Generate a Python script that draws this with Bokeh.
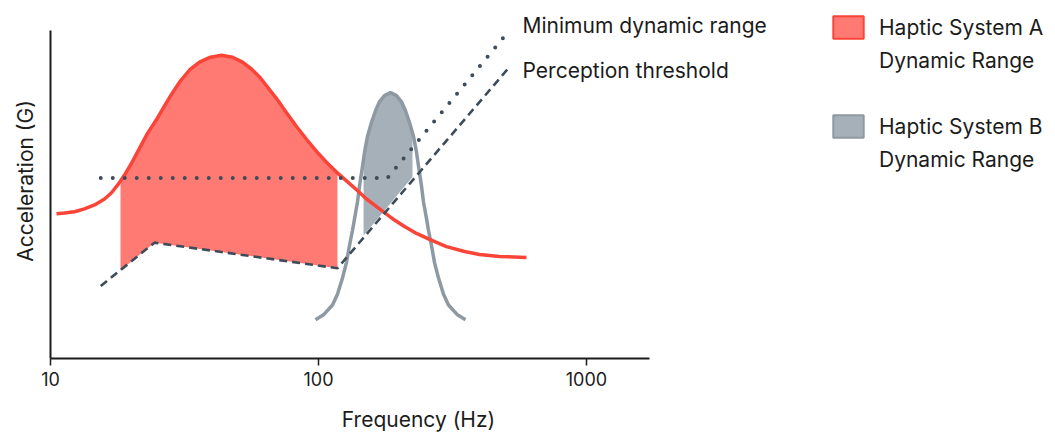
from bokeh.plotting import figure
from bokeh.layouts import row
from bokeh.models import Range1d, FixedTicker, Legend, LegendItem, Label
from bokeh.embed import file_html
from bokeh.resources import INLINE

# ---------------- data ----------------
# Haptic System A response curve (frequency in Hz, acceleration in arbitrary units)
sysA_x = [10.53, 11.28, 12.29, 13.39, 14.60, 15.91, 16.89, 17.94, 18.89, 20.06,
          21.48, 23.01, 24.87, 26.64, 28.53, 30.56, 33.02, 35.97, 39.54, 43.46,
          47.77, 52.05, 56.23, 60.24, 63.97, 69.72, 75.97, 82.80, 90.20, 98.30,
          107.1, 116.7, 127.2, 138.7, 151.1, 168.9, 188.9, 209.4, 232.2, 259.6,
          300.4, 350.6, 398.7, 473.6, 597.2]
sysA_y = [4.41, 4.43, 4.47, 4.56, 4.68, 4.86, 5.05, 5.32, 5.59, 5.95,
          6.40, 6.86, 7.28, 7.70, 8.10, 8.46, 8.79, 9.03, 9.18, 9.24,
          9.18, 9.03, 8.82, 8.58, 8.31, 7.92, 7.49, 7.07, 6.68, 6.31,
          5.98, 5.68, 5.41, 5.14, 4.86, 4.56, 4.26, 4.02, 3.81, 3.63,
          3.41, 3.26, 3.17, 3.11, 3.08]

# Haptic System B response curve
sysB_x = [97.46, 104.4, 112.8, 117.7, 122.9, 127.2, 130.5, 133.9, 136.3, 139.8,
          142.3, 146.0, 148.5, 152.4, 157.7, 163.2, 168.9, 176.3, 185.7, 195.5,
          204.1, 211.2, 218.6, 226.2, 232.2, 236.2, 242.3, 246.5, 253.0, 257.4,
          264.1, 270.9, 280.5, 292.8, 305.6, 330.1, 353.6]
sysB_y = [1.18, 1.33, 1.63, 1.96, 2.45, 2.93, 3.44, 3.90, 4.26, 4.77,
          5.26, 5.86, 6.28, 6.77, 7.19, 7.55, 7.82, 8.01, 8.10, 8.01,
          7.82, 7.55, 7.19, 6.77, 6.28, 5.86, 5.26, 4.77, 4.26, 3.90,
          3.44, 2.93, 2.45, 1.96, 1.63, 1.33, 1.18]

# Perception threshold (dashed)
thr_x = [15.4, 24.44, 117.7, 512]
thr_y = [2.21, 3.53, 2.75, 8.85]

# Minimum dynamic range (dotted)
mdr_x = [15.4, 181, 512]
mdr_y = [5.50, 5.50, 9.97]

# Dynamic range region of System A (outline of the filled area)
rangeA_x = [18.25, 18.89, 20.06, 21.48, 23.01, 24.87, 26.64, 28.53, 30.56, 33.02,
            35.97, 39.54, 43.46, 47.77, 52.05, 56.23, 60.24, 63.97, 69.72, 75.97,
            82.80, 90.20, 98.30, 107.1, 116.7, 117.7, 117.7, 24.44, 18.25]
rangeA_y = [5.44, 5.59, 5.95, 6.40, 6.86, 7.28, 7.70, 8.10, 8.46, 8.79,
            9.03, 9.18, 9.24, 9.18, 9.03, 8.82, 8.58, 8.31, 7.92, 7.49,
            7.07, 6.68, 6.31, 5.98, 5.68, 5.65, 2.75, 3.53, 2.69]

# Dynamic range region of System B
rangeB_x = [147.3, 147.3, 148.5, 152.4, 157.7, 163.2, 168.9, 176.3, 185.7, 195.5,
            204.1, 211.2, 218.6, 224.3, 224.3]
rangeB_y = [3.75, 6.07, 6.28, 6.77, 7.19, 7.55, 7.82, 8.01, 8.10, 8.01,
            7.82, 7.55, 7.19, 6.89, 5.53]

tick_values = [10, 100, 1000]
tick_labels = ["10", "100", "1000"]
legend_A = ["Haptic System A", "Dynamic Range"]
legend_B = ["Haptic System B", "Dynamic Range"]
line_labels = ["Minimum dynamic range", "Perception threshold"]

# ---------------- styling ----------------
FONT = "Inter"
TXT = "#1c1c1c"
RED = "#fb4438"
RED_FILL = "#ff7a72"
GREY = "#8d99a3"
GREY_FILL = "#a6b0b8"
DARK = "#3d4c58"

p = figure(width=786, height=434, x_axis_type="log",
           x_range=Range1d(10, 5577), y_range=Range1d(0, 10.816),
           output_backend="svg", toolbar_location=None,
           min_border_left=50, min_border_right=0,
           min_border_top=3, min_border_bottom=73)
p.outline_line_color = None
p.grid.visible = False
p.background_fill_color = "white"

# fills
p.patch(rangeA_x, rangeA_y, fill_color=RED_FILL, line_color=None)
p.patch(rangeB_x, rangeB_y, fill_color=GREY_FILL, line_color=None)

# curves
p.line(sysB_x, sysB_y, line_color=GREY, line_width=3.5, line_join="round")
p.line(sysA_x, sysA_y, line_color=RED, line_width=3.5, line_join="round")
p.line(thr_x, thr_y, line_color=DARK, line_width=2.6, line_dash="8 5")
p.line(mdr_x, mdr_y, line_color=DARK, line_width=4, line_dash="0 12", line_cap="round")

# line labels
p.add_layout(Label(x=mdr_x[-1], y=mdr_y[-1], x_offset=14, y_offset=6,
                   text=line_labels[0], text_baseline="alphabetic",
                   text_font=FONT, text_font_size="21px", text_color=TXT))
p.add_layout(Label(x=thr_x[-1], y=thr_y[-1], x_offset=14, y_offset=-2,
                   text=line_labels[1], text_baseline="alphabetic",
                   text_font=FONT, text_font_size="21px", text_color=TXT))

# axes
xa = p.xaxis[0]
xa.ticker = FixedTicker(ticks=tick_values)
xa.major_label_overrides = {v: l for v, l in zip(tick_values, tick_labels)}
xa.bounds = (10, 1718)
xa.minor_tick_line_color = None
xa.major_tick_out = 7
xa.major_tick_in = 0
xa.major_tick_line_width = 1.5
xa.major_tick_line_color = TXT
xa.axis_line_width = 2
xa.axis_line_color = TXT
xa.major_label_standoff = 6
xa.major_label_text_font = FONT
xa.major_label_text_font_size = "18px"
xa.major_label_text_color = TXT
xa.axis_label = "Frequency (Hz)"
xa.axis_label_text_font = FONT
xa.axis_label_text_font_size = "21px"
xa.axis_label_text_font_style = "normal"
xa.axis_label_text_color = TXT
xa.axis_label_standoff = 18

ya = p.yaxis[0]
ya.ticker = FixedTicker(ticks=[])
ya.bounds = (0, 10)
ya.minor_tick_line_color = None
ya.major_tick_line_color = None
ya.major_tick_out = 0
ya.major_tick_in = 0
ya.axis_line_width = 2
ya.axis_line_color = TXT
ya.axis_label = "Acceleration (G)"
ya.axis_label_text_font = FONT
ya.axis_label_text_font_size = "21px"
ya.axis_label_text_font_style = "normal"
ya.axis_label_text_color = TXT
ya.axis_label_standoff = 13

# ---------------- legend panel (separate figure to the right) ----------------
lf = figure(width=269, height=434, x_range=Range1d(0, 1), y_range=Range1d(0, 1),
            output_backend="svg", toolbar_location=None,
            x_axis_location=None, y_axis_location=None,
            min_border_left=0, min_border_right=0, min_border_top=0, min_border_bottom=0)
lf.outline_line_color = None
lf.grid.visible = False
lf.background_fill_color = "white"

# renderers carrying the swatch styles (their data lie outside this panel's view)
legA = lf.patch(rangeA_x, rangeA_y, fill_color=RED_FILL, line_color=RED, line_width=2)
legB = lf.patch(rangeB_x, rangeB_y, fill_color=GREY_FILL, line_color=GREY, line_width=2)
blank = lf.patch(rangeA_x, rangeA_y, fill_alpha=0, line_alpha=0)

legend = Legend(items=[LegendItem(label=legend_A[0], renderers=[legA]),
                       LegendItem(label=legend_A[1], renderers=[blank]),
                       LegendItem(label=" ", renderers=[blank]),
                       LegendItem(label=legend_B[0], renderers=[legB]),
                       LegendItem(label=legend_B[1], renderers=[blank])],
                location=(43, 185), padding=0, margin=0, spacing=5,
                glyph_width=38, glyph_height=28, label_standoff=12,
                label_height=28,
                label_text_font=FONT, label_text_font_size="21px",
                label_text_color=TXT,
                border_line_color=None, background_fill_alpha=0)
lf.add_layout(legend, "center")

layout = row(p, lf)
open("out.html", "w").write(file_html(layout, INLINE))
